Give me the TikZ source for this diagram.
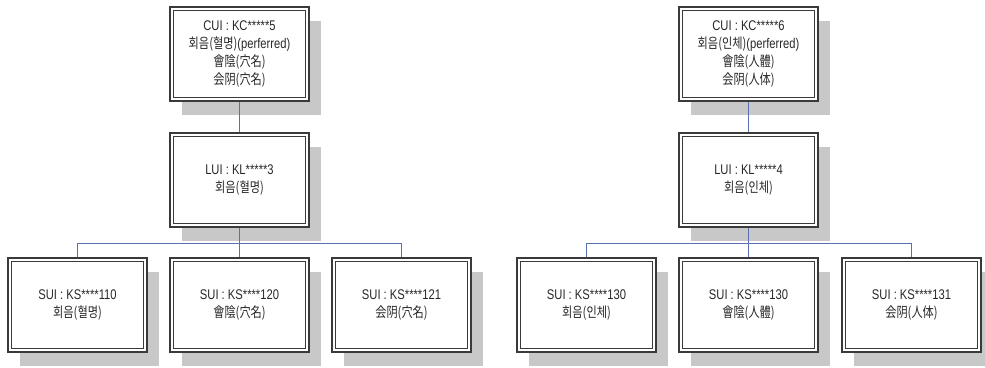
\documentclass[tikz,border=0pt]{standalone}
\usepackage{fontspec}
\setmainfont[FakeStretch=0.8]{Liberation Sans}
\newfontfamily\kr[FakeStretch=0.8]{Noto Sans CJK KR}
\usetikzlibrary{shadows}
\definecolor{frame}{HTML}{3A3A3A}
\definecolor{shade}{HTML}{C8C8C8}
\definecolor{linkc}{HTML}{5A70B0}
\definecolor{txt}{HTML}{282828}
\tikzset{
  umlsbox/.style={rectangle, minimum width=139pt, minimum height=94pt, inner sep=0pt,
    draw=frame, line width=1.8pt, fill=white, text=txt, align=center,
    font=\fontsize{14}{18}\selectfont,
    drop shadow={fill=shade, opacity=1, shadow xshift=12pt, shadow yshift=-14pt},
    path picture={\draw[frame, line width=0.8pt]
      ([shift={(3.6pt,-3.6pt)}]path picture bounding box.north west) rectangle
      ([shift={(-3.6pt,3.6pt)}]path picture bounding box.south east);}},
  linkline/.style={draw=linkc, line width=0.9pt}
}
\begin{document}
\begin{tikzpicture}[x=1pt,y=-1pt]
\useasboundingbox (0,0) rectangle (985,367);
% left tree
\node[umlsbox] (cui1) at (239.5,53.7) {CUI : KC*****5\\{\kr 회음(혈명)}(perferred)\\{\kr 會陰(穴名)}\\{\kr 会阴(穴名)}};
\node[umlsbox] (lui1) at (239.5,179.7) {LUI : KL*****3\\{\kr 회음(혈명)}};
\node[umlsbox] (s11) at (77.5,304.7) {SUI : KS****110\\{\kr 회음(혈명)}};
\node[umlsbox] (s12) at (239.5,304.7) {SUI : KS****120\\{\kr 會陰(穴名)}};
\node[umlsbox] (s13) at (401.5,304.7) {SUI : KS****121\\{\kr 会阴(穴名)}};
% right tree
\node[umlsbox] (cui2) at (748.5,53.7) {CUI : KC*****6\\{\kr 회음(인체)}(perferred)\\{\kr 會陰(人體)}\\{\kr 会阴(人体)}};
\node[umlsbox] (lui2) at (748.5,179.7) {LUI : KL*****4\\{\kr 회음(인체)}};
\node[umlsbox] (s21) at (586.5,304.7) {SUI : KS****130\\{\kr 회음(인체)}};
\node[umlsbox] (s22) at (748.5,304.7) {SUI : KS****130\\{\kr 會陰(人體)}};
\node[umlsbox] (s23) at (911.5,304.7) {SUI : KS****131\\{\kr 会阴(人体)}};
% connectors
\coordinate (b1) at (239.5,243.5);
\coordinate (b2) at (748.5,243.5);
\draw[linkline] (cui1) -- (lui1);
\draw[linkline] (lui1) -- (b1);
\draw[linkline] (s11.north) |- (b1) -| (s13.north);
\draw[linkline] (b1) -- (s12);
\draw[linkline] (cui2) -- (lui2);
\draw[linkline] (lui2) -- (b2);
\draw[linkline] (s21.north) |- (b2) -| (s23.north);
\draw[linkline] (b2) -- (s22);
\end{tikzpicture}
\end{document}
